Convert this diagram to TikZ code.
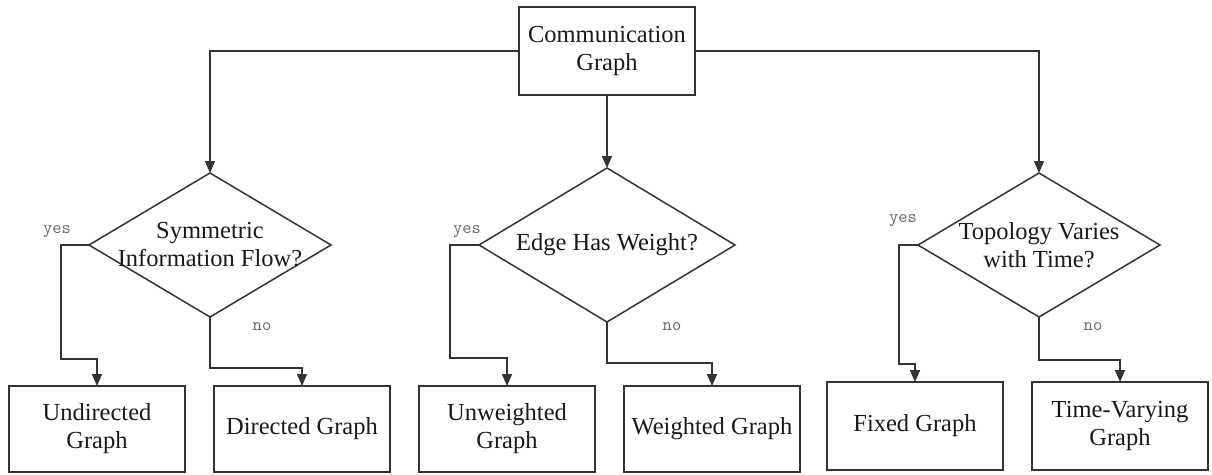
\documentclass[tikz,border=0pt]{standalone}
\usepackage{fontspec}
\setmainfont{Liberation Serif}
\usetikzlibrary{shapes.geometric,arrows.meta}
\tikzset{
  box/.style={draw=black!80, line width=1.5pt, rectangle, minimum width=176pt, inner sep=0pt, outer sep=0pt, align=center, font=\fontsize{24.5}{28}\selectfont, text=black!90},
  dia/.style={draw=black!80, line width=1.5pt, diamond, inner sep=0pt, outer sep=0pt},
  diatext/.style={align=center, font=\fontsize{24.5}{28}\selectfont, text=black!90, inner sep=0pt},
  arr/.style={draw=black!80, line width=1.5pt, -{Triangle[width=10pt,length=12pt]}},
  lab/.style={font=\ttfamily\fontsize{18}{20}\selectfont, text=black!60, inner sep=0pt},
}
\begin{document}
\begin{tikzpicture}[x=1pt,y=-1pt]
\useasboundingbox (0,0) rectangle (1212,474);
% top
\node[box, minimum height=88pt] (top) at (607,51) {Communication\\Graph};
% diamonds
\node[dia, minimum width=242pt, minimum height=144pt] (d1) at (210,245) {};
\node[diatext] (d1t) at (210,245) {Symmetric\\Information Flow?};
\node[dia, minimum width=256pt, minimum height=154pt] (d2) at (607,245) {};
\node[diatext] (d2t) at (607,245) {Edge Has Weight?};
\node[dia, minimum width=242pt, minimum height=144pt] (d3) at (1039,245) {};
\node[diatext] (d3t) at (1039,245) {Topology Varies\\with Time?};
% bottom boxes
\node[box, minimum height=86pt] (b1) at (97,429) {Undirected\\Graph};
\node[box, minimum height=86pt] (b2) at (302,429) {Directed Graph};
\node[box, minimum height=86pt] (b3) at (507,429) {Unweighted\\Graph};
\node[box, minimum height=86pt] (b4) at (712,429) {Weighted Graph};
\node[box, minimum height=88pt] (b5) at (915,426) {Fixed Graph};
\node[box, minimum height=88pt] (b6) at (1120,426) {Time-Varying\\Graph};
% top connectors
\draw[arr] (top.west) -| (d1.north);
\draw[arr] (top.south) -- (d2.north);
\draw[arr] (top.east) -| (d3.north);
% diamond connectors
\draw[arr] (d1.west) -| (61,359) -| (b1.north);
\draw[arr] (d1.south) |- (303,368) -| (b2.north);
\draw[arr] (d2.west) -| (450,358) -| (b3.north);
\draw[arr] (d2.south) |- (713,363) -| (b4.north);
\draw[arr] (d3.west) -| (899,364) -| (b5.north);
\draw[arr] (d3.south) |- (1121,360) -| (b6.north);
% labels
\node[lab] (y1) at (57,232) {yes};
\node[lab] (n1) at (262,327) {no};
\node[lab] (y2) at (467,232) {yes};
\node[lab] (n2) at (672,327) {no};
\node[lab] (y3) at (903,221) {yes};
\node[lab] (n3) at (1093,327) {no};
\end{tikzpicture}
\end{document}
